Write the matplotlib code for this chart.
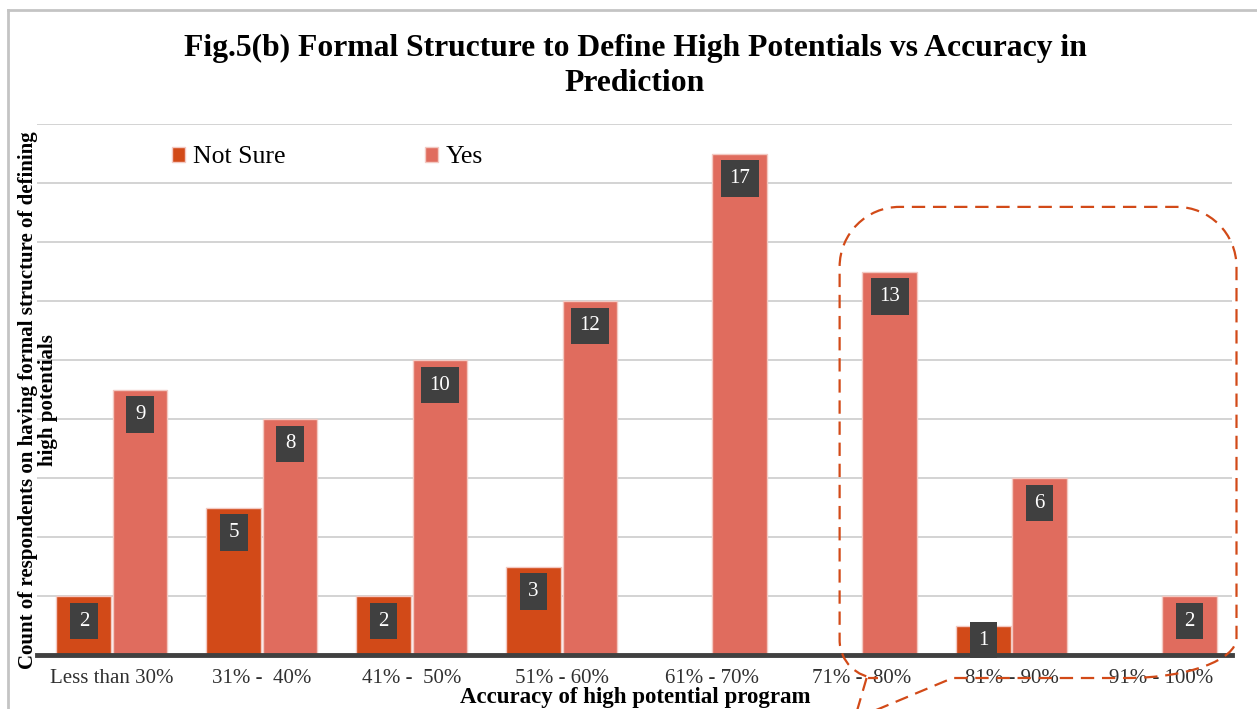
import matplotlib.pyplot as plt
import numpy as np
from matplotlib.path import Path
from matplotlib.patches import PathPatch
from matplotlib.lines import Line2D
from matplotlib.transforms import IdentityTransform

plt.rcParams['font.family'] = ['Liberation Serif', 'DejaVu Serif']

categorias = ['Less than 30%', '31% -  40%', '41% -  50%', '51% - 60%',
              '61% - 70%', '71% -  80%', '81% - 90%', '91% - 100%']
no_seguro = [2, 5, 2, 3, 0, 0, 1, 0]
si = [9, 8, 10, 12, 17, 13, 6, 2]

c_no = '#D24A18'
c_si = '#E06C5E'

W, H = 1257, 709
fig = plt.figure(figsize=(W / 100, H / 100), dpi=100)
ax = fig.add_axes([37 / W, (H - 655) / H, (1232 - 37) / W, (655 - 124) / H])

x = np.arange(len(categorias))
w = 0.365
b1 = ax.bar(x - w / 2 - 0.005, no_seguro, w, color=c_no, edgecolor='#f3c9c2', linewidth=1, label='Not Sure')
b2 = ax.bar(x + w / 2 + 0.005, si, w, color=c_si, edgecolor='#f3c9c2', linewidth=1, label='Yes')

ax.set_xlim(-0.5, 7.47)
ax.set_ylim(0, 18)
ax.set_yticks(range(0, 19, 2))
ax.set_yticklabels([])
ax.yaxis.grid(True, color='#d0d0d0', linewidth=1.3)
ax.set_axisbelow(True)
for s in ['left', 'right', 'top']:
    ax.spines[s].set_visible(False)
ax.spines['bottom'].set_color('#404040')
ax.spines['bottom'].set_linewidth(3.5)
ax.spines['bottom'].set_zorder(5)
ax.set_xticks(x)
ax.set_xticklabels(categorias, fontsize=15, color='#303030')
ax.tick_params(axis='both', length=0)
ax.tick_params(axis='x', pad=10)

# etiquetas de valor
px_por_unidad = 531 / 18
for barras in (b1, b2):
    for r in barras:
        v = r.get_height()
        if v == 0:
            continue
        off = min(25, v * px_por_unidad / 2) * 0.72
        ax.annotate(str(int(v)), xy=(r.get_x() + r.get_width() / 2, v),
                    xytext=(0, -off), textcoords='offset points',
                    ha='center', va='center', color='white', fontsize=15,
                    bbox=dict(boxstyle='square,pad=0.41', fc='#404040', ec='none'))

ax.legend(loc='upper left', bbox_to_anchor=(0.1025, 0.982), ncol=2, frameon=False,
          fontsize=18.5, handlelength=0.5, handleheight=0.5, handletextpad=0.3,
          columnspacing=5.45, borderpad=0)

fig.text(635 / W, 1 - 66 / H,
         'Fig.5(b) Formal Structure to Define High Potentials vs Accuracy in\nPrediction',
         ha='center', va='center', fontsize=22.8, fontweight='bold', linespacing=1.3)
fig.text(635 / W, 1.5 / H, 'Accuracy of high potential program',
         ha='center', va='bottom', fontsize=16.5, fontweight='bold')
fig.text(38 / W, 1 - 400 / H,
         'Count of respondents on having formal structure of defining\nhigh potentials',
         ha='center', va='center', rotation=90, fontsize=15, fontweight='bold',
         linespacing=1.0)

# marco del objeto
fig.add_artist(Line2D([8 / W, 8 / W], [0, 1 - 10 / H], color='#c4c4c4', lw=2))
fig.add_artist(Line2D([8 / W, 1], [1 - 10 / H, 1 - 10 / H], color='#c4c4c4', lw=2))

# recuadro punteado con globo
fig.canvas.draw()
tr = ax.transData
L, B = tr.transform((4.853, -0.78))
R, T = tr.transform((7.5, 15.19))
xpl = tr.transform((5.033, 0))[0]
xpr = tr.transform((5.607, 0))[0]
tip = tr.transform((4.953, -2.17))
k = 0.5523
r = 60
rbl = 38
rbrx, rbry = 110, 40
verts = [(xpl, B), tuple(tip), (xpr, B), (R - rbrx, B),
         (R - rbrx + k * rbrx, B), (R, B + rbry - k * rbry), (R, B + rbry),
         (R, T - r),
         (R, T - r + k * r), (R - r + k * r, T), (R - r, T),
         (L + r, T),
         (L + r - k * r, T), (L, T - r + k * r), (L, T - r),
         (L, B + rbl),
         (L, B + rbl - k * rbl), (L + rbl - k * rbl, B), (L + rbl, B),
         (xpl, B)]
codes = [Path.MOVETO, Path.LINETO, Path.LINETO, Path.LINETO,
         Path.CURVE4, Path.CURVE4, Path.CURVE4,
         Path.LINETO,
         Path.CURVE4, Path.CURVE4, Path.CURVE4,
         Path.LINETO,
         Path.CURVE4, Path.CURVE4, Path.CURVE4,
         Path.LINETO,
         Path.CURVE4, Path.CURVE4, Path.CURVE4,
         Path.LINETO]
globo = PathPatch(Path(verts, codes), fill=False, edgecolor=c_no, lw=1.6,
                  linestyle=(0, (6, 3.5)), transform=IdentityTransform())
fig.add_artist(globo)

plt.savefig('out.png', dpi=100, facecolor='white')
